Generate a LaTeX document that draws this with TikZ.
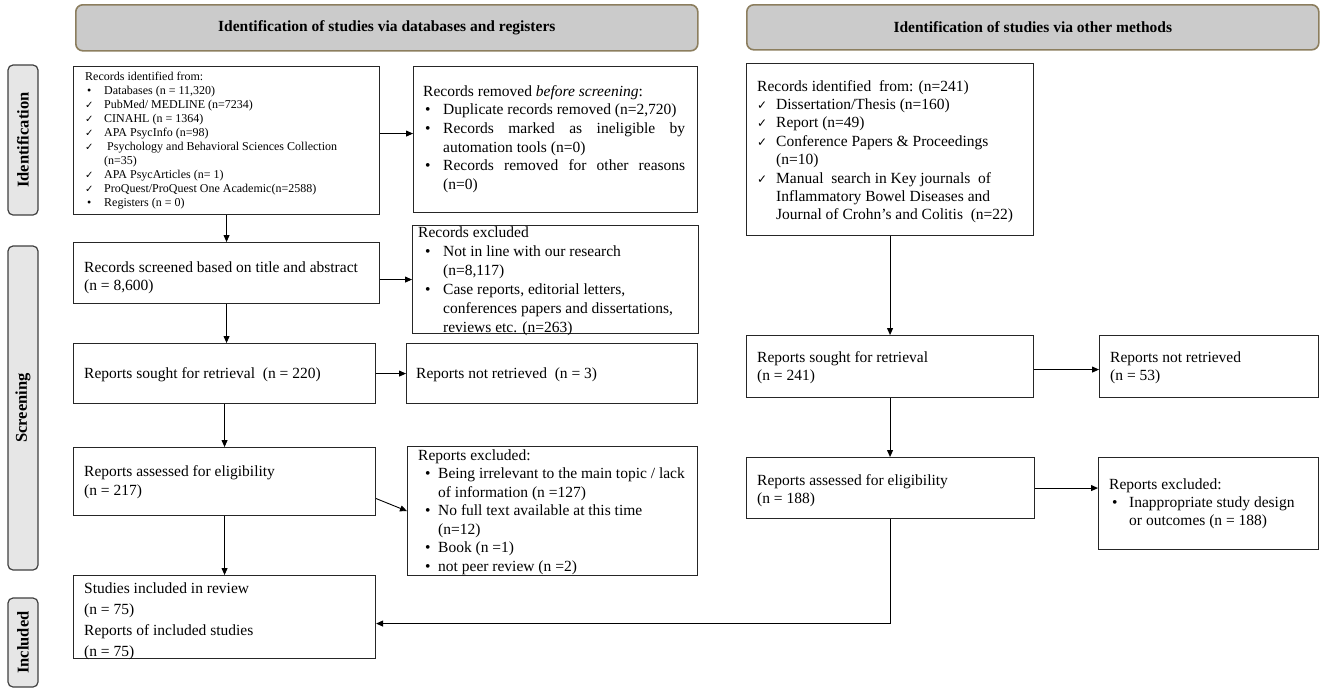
\documentclass[tikz,border=0pt]{standalone}
\usepackage{fontspec}
\setmainfont{Liberation Serif}
\newfontfamily\djv{DejaVu Sans}
\usepackage{array}
\usetikzlibrary{arrows.meta}
\definecolor{hdrf}{HTML}{CBCBCB}
\definecolor{hdrb}{HTML}{8C7E5E}
\definecolor{sidef}{HTML}{E6E6E6}
\newcommand\ck[1][10]{{\djv\fontsize{#1}{#1}\selectfont ✓}}
\newcommand\bu{\textbullet}
\begin{document}
\begin{tikzpicture}[x=1pt,y=-1pt,
 box/.style={draw=black!85, line width=1.1pt, inner sep=0pt, anchor=north west},
 hdr/.style={draw=hdrb, line width=1.6pt, fill=hdrf, rounded corners=7pt, inner sep=0pt, anchor=north west, font=\fontsize{15.5}{18}\selectfont\bfseries},
 side/.style={draw=black!75, line width=1.2pt, fill=sidef, rounded corners=5pt, inner sep=0pt, rotate=90, font=\fontsize{16.5}{18}\selectfont\bfseries},
 txt/.style={inner sep=0pt, anchor=base west, font=\fontsize{15.5}{18.7}\selectfont},
 arr/.style={-{Triangle[length=7pt,width=6pt]}, line width=0.9pt}]
\fill[white] (0,0) rectangle (1325,694);
\useasboundingbox (0,0) rectangle (1325,694);

% headers
\node[hdr, minimum width=622, minimum height=46] (h1) at (75,4) {Identification of studies via databases and registers};
\node[hdr, minimum width=572, minimum height=45] (h2) at (746,4) {Identification of studies via other methods};

% side labels
\node[side, minimum width=150, minimum height=30] (s1) at (23,140) {Identification};
\node[side, minimum width=324, minimum height=30] (s2) at (23,408) {Screening};
\node[side, minimum width=89, minimum height=30] (s3) at (23,642.5) {Included};

% boxes
\node[box, minimum width=306, minimum height=148] (b1) at (73,66) {};
\node[box, minimum width=284, minimum height=146] (b2) at (413,66) {};
\node[box, minimum width=306, minimum height=61] (b3) at (73,242) {};
\node[box, minimum width=286, minimum height=108] (b4) at (412,225) {};
\node[box, minimum width=302, minimum height=60] (b5) at (73,343) {};
\node[box, minimum width=291, minimum height=60] (b6) at (406,343) {};
\node[box, minimum width=302, minimum height=68] (b7) at (73,447) {};
\node[box, minimum width=290, minimum height=129] (b8) at (407,446) {};
\node[box, minimum width=302, minimum height=83] (b9) at (73,575) {};
\node[box, minimum width=287, minimum height=172] (b10) at (746,63) {};
\node[box, minimum width=287, minimum height=62] (b11) at (746,335) {};
\node[box, minimum width=219, minimum height=62] (b12) at (1099,335) {};
\node[box, minimum width=288, minimum height=61] (b13) at (746,457) {};
\node[box, minimum width=220, minimum height=92] (b14) at (1098,457) {};

% texts
\node[txt, font=\fontsize{12}{14.1}\selectfont] (b1t) at (85,80) {\begin{tabular}[t]{@{}p{19pt}@{}l@{}}
\multicolumn{2}{@{}l@{}}{Records identified from:}\\
\hspace{2pt}\bu & Databases (n = 11,320)\\
\ck & PubMed/ MEDLINE (n=7234)\\
\ck & CINAHL (n = 1364)\\
\ck & APA PsycInfo (n=98)\\
\ck & \ Psychology and Behavioral Sciences Collection\\
 & (n=35)\\
\ck & APA PsycArticles (n= 1)\\
\ck & ProQuest/ProQuest One Academic(n=2588)\\
\hspace{2pt}\bu & Registers (n = 0)
\end{tabular}};

\node[txt] (b2t) at (423,96) {\begin{tabular}[t]{@{}p{20pt}@{}p{242pt}@{}}
\multicolumn{2}{@{}l@{}}{Records removed \textit{before screening}:}\\
\hspace{2pt}\bu & Duplicate records removed (n=2,720)\\
\hspace{2pt}\bu & Records marked as ineligible by\linebreak automation tools (n=0)\\
\hspace{2pt}\bu & Records removed for other reasons\linebreak (n=0)
\end{tabular}};

\node[txt] (b3t) at (84,272) {\begin{tabular}[t]{@{}l@{}}
Records screened based on title and abstract\\
(n = 8,600)
\end{tabular}};

\node[txt, font=\fontsize{15.5}{19}\selectfont] (b4t) at (418,237) {\begin{tabular}[t]{@{}p{25pt}@{}l@{}}
\multicolumn{2}{@{}l@{}}{Records excluded}\\
\hspace{7pt}\bu & Not in line with our research\\
 & (n=8,117)\\
\hspace{7pt}\bu & Case reports, editorial letters,\\
 & conferences papers and dissertations,\\
 & reviews etc. (n=263)
\end{tabular}};

\node[txt] (b5t) at (84,378) {Reports sought for retrieval\ \ (n = 220)};
\node[txt] (b6t) at (416,378) {Reports not retrieved\ \ (n = 3)};

\node[txt, font=\fontsize{15.5}{19}\selectfont] (b7t) at (84,476) {\begin{tabular}[t]{@{}l@{}}
Reports assessed for eligibility\\
(n = 217)
\end{tabular}};

\node[txt, font=\fontsize{15.5}{18.5}\selectfont] (b8t) at (418,460) {\begin{tabular}[t]{@{}p{20pt}@{}l@{}}
\multicolumn{2}{@{}l@{}}{Reports excluded:}\\
\hspace{7pt}\bu & Being irrelevant to the main topic / lack\\
 & of information (n =127)\\
\hspace{7pt}\bu & No full text available at this time\\
 & (n=12)\\
\hspace{7pt}\bu & Book (n =1)\\
\hspace{7pt}\bu & not peer review (n =2)
\end{tabular}};

\node[txt, font=\fontsize{15.5}{21.2}\selectfont] (b9t) at (84,593) {\begin{tabular}[t]{@{}l@{}}
Studies included in review\\
(n = 75)\\
Reports of included studies\\
(n = 75)
\end{tabular}};

\node[txt, font=\fontsize{15.5}{18.4}\selectfont] (b10t) at (757,91) {\begin{tabular}[t]{@{}p{19pt}@{}l@{}}
\multicolumn{2}{@{}l@{}}{Records identified\ \ from: (n=241)}\\
\ck[12] & Dissertation/Thesis (n=160)\\
\ck[12] & Report (n=49)\\
\ck[12] & Conference Papers \& Proceedings\\
 & (n=10)\\
\ck[12] & Manual\ \ search in Key journals\ \ of\\
 & Inflammatory Bowel Diseases and\\
 & Journal of Crohn's and Colitis\ \ (n=22)
\end{tabular}};

\node[txt, font=\fontsize{15.5}{18}\selectfont] (b11t) at (757,362) {\begin{tabular}[t]{@{}l@{}}
Reports sought for retrieval\\
(n = 241)
\end{tabular}};
\node[txt, font=\fontsize{15.5}{18}\selectfont] (b12t) at (1110,362) {\begin{tabular}[t]{@{}l@{}}
Reports not retrieved\\
(n = 53)
\end{tabular}};
\node[txt, font=\fontsize{15.5}{18}\selectfont] (b13t) at (757,485) {\begin{tabular}[t]{@{}l@{}}
Reports assessed for eligibility\\
(n = 188)
\end{tabular}};
\node[txt, font=\fontsize{15.5}{18.2}\selectfont] (b14t) at (1109,489) {\begin{tabular}[t]{@{}p{20pt}@{}l@{}}
\multicolumn{2}{@{}l@{}}{Reports excluded:}\\
\hspace{3pt}\bu & Inappropriate study design\\
 & or outcomes (n = 188)
\end{tabular}};

% connectors
\coordinate (a1) at ([yshift=7pt]b1.east);
\draw[arr] (a1) -- (a1 -| b2.west);
\draw[arr] (b1.south) -- (b1.south |- b3.north);
\coordinate (a3) at ([yshift=-6.5pt]b3.east);
\draw[arr] (a3) -- (a3 -| b4.west);
\draw[arr] (b3.south) -- (b3.south |- b5.north);
\draw[arr] (b5.east) -- (b6.west);
\draw[arr] (b5.south) -- (b5.south |- b7.north);
\draw[arr] ([yshift=-17pt]b7.east) -- (b8.west);
\draw[arr] (b7.south) -- (b7.south |- b9.north);
\draw[arr] (b10.south) -- (b10.south |- b11.north);
\coordinate (a11) at ([yshift=-3pt]b11.east);
\draw[arr] (a11) -- (a11 -| b12.west);
\draw[arr] (b11.south) -- (b11.south |- b13.north);
\draw[arr] (b13.east) -- (b13.east -| b14.west);
\coordinate (a9) at ([yshift=-6.5pt]b9.east);
\draw[arr] (b13.south) |- (a9);
\end{tikzpicture}
\end{document}
